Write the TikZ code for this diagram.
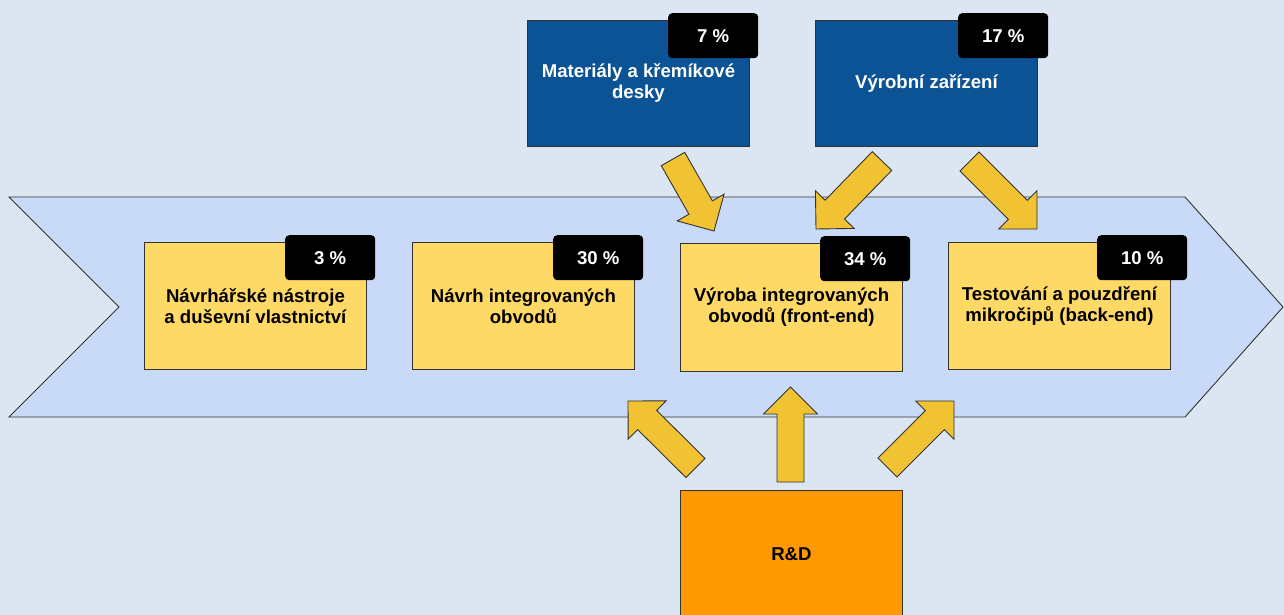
\documentclass[tikz,border=0pt]{standalone}
\usepackage{fontspec}
\setmainfont{Liberation Sans}
\usetikzlibrary{calc}
\definecolor{bg}{HTML}{DCE6F2}
\definecolor{chev}{HTML}{C9DAF8}
\definecolor{ybox}{HTML}{FFD966}
\definecolor{bbox}{HTML}{0B5394}
\definecolor{obox}{HTML}{FF9900}
\definecolor{arr}{HTML}{F1C232}
\definecolor{edge}{HTML}{333333}
\newcommand\blockarr[3]{%
  \coordinate (#1j) at ($(#3)!27pt!(#2)$);
  \draw[blockarrow]
    ($(#2)!13.5pt!90:(#3)$) -- ($(#1j)!13.5pt!90:(#3)$) -- ($(#1j)!27pt!90:(#3)$) --
    (#3) -- ($(#1j)!27pt!-90:(#3)$) -- ($(#1j)!13.5pt!-90:(#3)$) --
    ($(#2)!13.5pt!-90:(#3)$) -- cycle;}
\begin{document}
\begin{tikzpicture}[x=1pt,y=-1pt,
  font=\fontsize{18.6}{21}\selectfont\bfseries,
  stage/.style={draw=edge, line width=0.9pt, fill=ybox, minimum width=222pt,
    minimum height=127pt, inner sep=0pt, align=center, anchor=north west},
  topbox/.style={stage, fill=bbox, text=white, minimum height=126pt},
  rdbox/.style={stage, fill=obox, minimum height=128pt},
  badge/.style={fill=black, text=white, rounded corners=4pt, minimum width=90pt,
    minimum height=45pt, inner sep=0pt, anchor=north west},
  blockarrow/.style={draw=edge, line width=0.9pt, fill=arr, line join=miter}]
\useasboundingbox (0,0) rectangle (1284,615);
\fill[bg] (0,0) rectangle (1284,615);
% chevron
\draw[fill=chev, draw=edge, line width=0.9pt]
  (9,197) -- (1185,197) -- (1283,307) -- (1185,417) -- (9,417) -- (119,307) -- cycle;
% top boxes
\node[topbox] (mat) at (527,20) {Materiály a křemíkové\\desky};
\node[badge] (bmat) at (668,13) {7 \%};
\node[topbox] (zar) at (815,20) {Výrobní zařízení};
\node[badge] (bzar) at (958,13) {17 \%};
% stages
\node[stage] (s1) at (144,242) {Návrhářské nástroje\\a duševní vlastnictví};
\node[badge] (b1) at (285,235) {3 \%};
\node[stage] (s2) at (412,242) {Návrh integrovaných\\obvodů};
\node[badge] (b2) at (553,235) {30 \%};
\node[stage, minimum height=128pt] (s3) at (680,243) {Výroba integrovaných\\obvodů (front-end)};
\node[badge] (b3) at (820,236) {34 \%};
\node[stage] (s4) at (948,242) {Testování a pouzdření\\mikročipů (back-end)};
\node[badge] (b4) at (1097,235) {10 \%};
% R&D
\node[rdbox] (rd) at (680,490) {R\&D};
% arrow coordinates
\coordinate (a1t) at (673,159);  \coordinate (a1h) at (714,231);
\coordinate (a2t) at (882,161);  \coordinate (a2h) at (816,229);
\coordinate (a3t) at (969.5,161.5); \coordinate (a3h) at (1037,229);
\coordinate (a4t) at (695.5,468); \coordinate (a4h) at (628,401);
\coordinate (a5t) at (790.5,482); \coordinate (a5h) at (790.5,387);
\coordinate (a6t) at (887.5,467.5); \coordinate (a6h) at (954,401);
\blockarr{a1}{a1t}{a1h}
\blockarr{a2}{a2t}{a2h}
\blockarr{a3}{a3t}{a3h}
\blockarr{a4}{a4t}{a4h}
\blockarr{a5}{a5t}{a5h}
\blockarr{a6}{a6t}{a6h}
\end{tikzpicture}
\end{document}
